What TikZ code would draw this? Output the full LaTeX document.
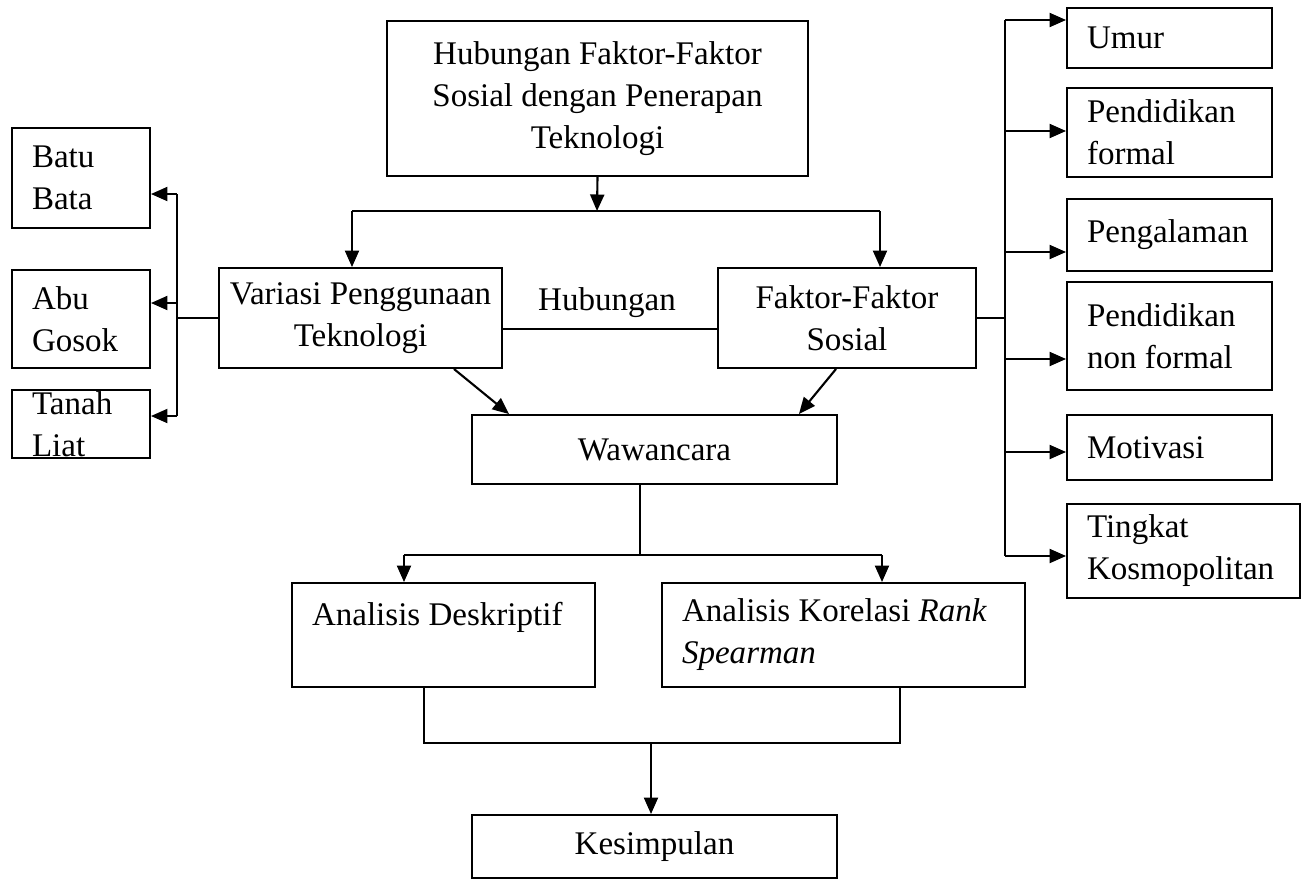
\documentclass[tikz,border=0pt]{standalone}
\usepackage{fontspec}
\setmainfont{Liberation Serif}
\usetikzlibrary{arrows.meta}
\begin{document}
\begin{tikzpicture}[x=0.02cm, y=-0.02cm, font=\fontsize{18.8}{23.9}\selectfont,
  kotak/.style={draw, line width=1.1pt, inner sep=0pt},
  panah/.style={line width=1.2pt, -{Triangle[length=0.33cm,width=0.28cm]}},
  garis/.style={line width=1.1pt}]
\useasboundingbox (0,0) rectangle (1305,880);
% kotak tengah
\node[kotak, minimum width=8.42cm, minimum height=3.1cm, text width=8.2cm, align=flush center] (hub) at (597.5,98.5) {Hubungan Faktor-Faktor\\Sosial dengan Penerapan\\Teknologi};
\node[kotak, minimum width=5.66cm, minimum height=2cm, text width=5.5cm, align=flush center] (var) at (360.5,318) {Variasi Penggunaan\\Teknologi};
\node[kotak, minimum width=5.16cm, minimum height=2cm, text width=5cm, align=flush center] (fak) at (847,318) {Faktor-Faktor\\Sosial};
\node (hbg) at (607,303) {Hubungan};
\node[kotak, minimum width=7.3cm, minimum height=1.38cm, text width=7.1cm, align=flush center] (waw) at (654.5,449.5) {Wawancara};
\node[kotak, minimum width=6.06cm, minimum height=2.08cm, text width=5.26cm, align=flush left] (des) at (443.5,635) {Analisis Deskriptif\\\mbox{}};
\node[kotak, minimum width=7.26cm, minimum height=2.08cm, text width=6.46cm, align=flush left] (kor) at (843.5,635) {Analisis Korelasi \textit{Rank}\\\textit{Spearman}};
\node[kotak, minimum width=7.3cm, minimum height=1.26cm, text width=7.1cm, align=flush center] (kes) at (654.5,846.5) {Kesimpulan};
% kotak kiri
\node[kotak, minimum width=2.76cm, minimum height=2cm, text width=1.96cm, align=flush left] (batu) at (81,178) {Batu\\Bata};
\node[kotak, minimum width=2.76cm, minimum height=1.96cm, text width=1.96cm, align=flush left] (abu) at (81,319) {Abu\\Gosok};
\node[kotak, minimum width=2.76cm, minimum height=1.36cm, text width=1.96cm, align=flush left] (tanah) at (81,424) {Tanah\\Liat};
% kotak kanan
\node[kotak, minimum width=4.1cm, minimum height=1.2cm, text width=3.3cm, align=flush left] (umur) at (1169.5,38) {Umur};
\node[kotak, minimum width=4.1cm, minimum height=1.78cm, text width=3.3cm, align=flush left] (pform) at (1169.5,132.5) {Pendidikan\\formal};
\node[kotak, minimum width=4.1cm, minimum height=1.44cm, text width=3.3cm, align=flush left] (alaman) at (1169.5,235) {Pengalaman};
\node[kotak, minimum width=4.1cm, minimum height=2.16cm, text width=3.3cm, align=flush left] (pnon) at (1169.5,336) {Pendidikan\\non formal};
\node[kotak, minimum width=4.1cm, minimum height=1.3cm, text width=3.3cm, align=flush left] (motiv) at (1169.5,447.5) {Motivasi};
\node[kotak, minimum width=4.66cm, minimum height=1.88cm, text width=3.86cm, align=flush left] (kosmo) at (1183.5,551) {Tingkat\\Kosmopolitan};
% percabangan atas
\coordinate (pecah) at (597,211);
\coordinate (kiri1) at (352,211);
\coordinate (kanan1) at (880,211);
\draw[panah] (hub.south) -- (pecah);
\draw[garis] (kiri1) -- (kanan1);
\draw[panah] (kiri1) -- (kiri1 |- var.north);
\draw[panah] (kanan1) -- (kanan1 |- fak.north);
\draw[garis] ([yshift=-0.22cm]var.east) -- ([yshift=-0.22cm]fak.west);
\draw[panah] ([xshift=-0.98cm]var.south east) -- ([xshift=0.76cm]waw.north west);
\draw[panah] ([xshift=2.38cm]fak.south west) -- ([xshift=-0.78cm]waw.north east);
% analisis
\coordinate (bagi) at (640,555);
\coordinate (kiri2) at (404,555);
\coordinate (kanan2) at (882,555);
\draw[garis] ([xshift=-0.29cm]waw.south) -- (bagi);
\draw[garis] (kiri2) -- (kanan2);
\draw[panah] (kiri2) -- (kiri2 |- des.north);
\draw[panah] (kanan2) -- (kanan2 |- kor.north);
\coordinate (gab1) at (424,743);
\coordinate (gab2) at (900,743);
\coordinate (gab3) at (651,743);
\draw[garis] (gab1 |- des.south) -- (gab1) -- (gab2) -- (gab2 |- kor.south);
\draw[panah] (gab3) -- (gab3 |- kes.north);
% cabang kiri
\coordinate (ka) at (177,194);
\coordinate (kt) at (177,303);
\coordinate (kb) at (177,416);
\draw[garis] (var.west) -- (var.west -| ka);
\draw[garis] (ka) -- (kb);
\draw[panah] (ka) -- (ka -| batu.east);
\draw[panah] (kt) -- (kt -| abu.east);
\draw[panah] (kb) -- (kb -| tanah.east);
% cabang kanan
\coordinate (r1) at (1005,20);
\coordinate (r2) at (1005,131);
\coordinate (r3) at (1005,252);
\coordinate (r4) at (1005,359);
\coordinate (r5) at (1005,452);
\coordinate (r6) at (1005,556);
\draw[garis] (fak.east) -- (fak.east -| r1);
\draw[garis] (r1) -- (r6);
\draw[panah] (r1) -- (r1 -| umur.west);
\draw[panah] (r2) -- (r2 -| pform.west);
\draw[panah] (r3) -- (r3 -| alaman.west);
\draw[panah] (r4) -- (r4 -| pnon.west);
\draw[panah] (r5) -- (r5 -| motiv.west);
\draw[panah] (r6) -- (r6 -| kosmo.west);
\end{tikzpicture}
\end{document}
